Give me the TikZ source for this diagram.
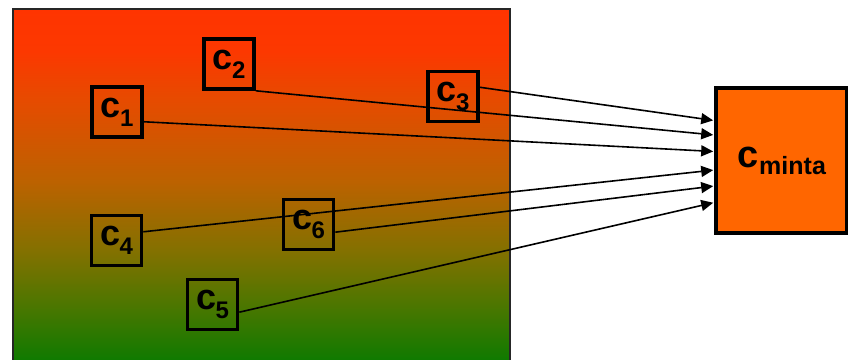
\documentclass[tikz,border=0pt]{standalone}
\usepackage{fontspec}
\setmainfont{Liberation Sans}
\usetikzlibrary{arrows.meta,calc}
\definecolor{mintaorange}{RGB}{255,102,0}
\pgfdeclareverticalshading{areashade}{100bp}{%
  rgb(0bp)=(0.055,0.478,0);
  rgb(25bp)=(0.055,0.478,0);
  rgb(33.5bp)=(0.314,0.463,0);
  rgb(40.5bp)=(0.51,0.443,0);
  rgb(50.5bp)=(0.737,0.384,0);
  rgb(62bp)=(0.902,0.294,0);
  rgb(69bp)=(0.988,0.22,0);
  rgb(75bp)=(1,0.204,0);
  rgb(100bp)=(1,0.204,0)}
\newcommand{\cvar}[1]{{\fontsize{36}{36}\selectfont\bfseries c}\kern-0.5pt{\fontsize{24}{24}\selectfont\bfseries\raisebox{-9pt}{#1}}}
\tikzset{
  varbox/.style={draw=black, line width=3.6pt, minimum width=50pt, minimum height=50pt, inner sep=0pt, anchor=center},
  conn/.style={line width=1.6pt, -{Triangle[length=12pt,width=11pt]}, shorten >=1pt},
}
\begin{document}
\begin{tikzpicture}[x=1pt,y=-1pt]
\useasboundingbox (0,0) rectangle (848,359);
% big gradient area
\node[draw=black!85, line width=2pt, shading=areashade, minimum width=497pt, minimum height=352pt, inner sep=0pt, anchor=north west] (area) at (12,8) {};
% variable boxes
\node[varbox] (c1) at (117,112) {\raisebox{3pt}{\cvar{1}}};
\node[varbox] (c2) at (229,64) {\raisebox{3pt}{\cvar{2}}};
\node[varbox] (c3) at (453,96.5) {\raisebox{3pt}{\cvar{3}}};
\node[varbox] (c4) at (116.5,240.5) {\raisebox{3pt}{\cvar{4}}};
\node[varbox] (c5) at (212.5,304.5) {\raisebox{3pt}{\cvar{5}}};
\node[varbox] (c6) at (308.5,224.5) {\raisebox{3pt}{\cvar{6}}};
% target box
\node[draw=black, line width=3.6pt, fill=mintaorange, minimum width=131pt, minimum height=145pt, inner sep=0pt] (cm) at (781.5,160.5) {\raisebox{4pt}{{\fontsize{38}{38}\selectfont\bfseries c}\kern1pt{\fontsize{25}{25}\selectfont\bfseries\raisebox{-7pt}{minta}}}};
% arrow targets on the left side of the target box
\coordinate (t1) at ($(cm.west)+(0,-40)$);
\coordinate (t2) at ($(cm.west)+(0,-25.5)$);
\coordinate (t3) at ($(cm.west)+(0,-9)$);
\coordinate (t4) at ($(cm.west)+(0,9.5)$);
\coordinate (t5) at ($(cm.west)+(0,25.5)$);
\coordinate (t6) at ($(cm.west)+(0,42)$);
% connectors
\draw[conn] (c3.19) -- (t1);
\draw[conn] (c2.south east) -- (t2);
\draw[conn] (c1.-20) -- (t3);
\draw[conn] (c4.18) -- (t4);
\draw[conn] (c6.-16) -- (t5);
\draw[conn] (c5.-16) -- (t6);
\end{tikzpicture}
\end{document}
